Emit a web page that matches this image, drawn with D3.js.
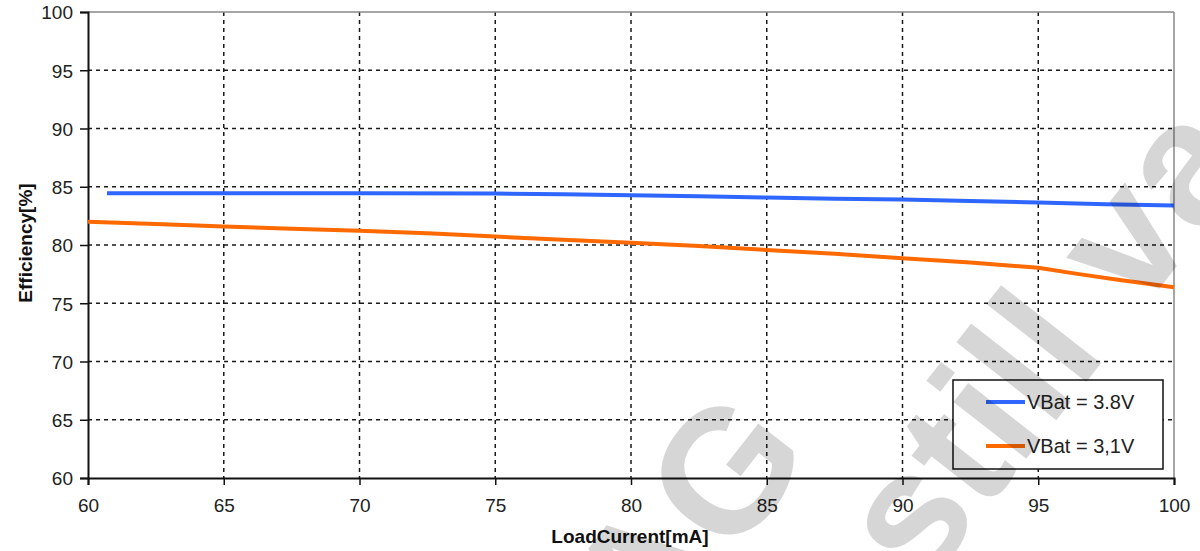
<!DOCTYPE html>
<html>
<head>
<meta charset="utf-8">
<script src="https://cdn.jsdelivr.net/npm/d3@7"></script>
<style>
  html, body { margin: 0; padding: 0; background: #fff; }
  svg { display: block; }
  text { font-family: "Liberation Sans", Arial, sans-serif; }
</style>
</head>
<body>
<svg id="chart" width="1200" height="551"></svg>
<script>
// ---- data ----
const seriesNames = ["VBat = 3.8V", "VBat = 3,1V"];
const seriesColors = ["#2f66ff", "#ff6a00"];
const currentBlue = [60.7, 65, 70, 75, 77.5, 80, 82.5, 85, 87.5, 90, 92.5, 95, 97.5, 100];
const effBlue     = [84.45, 84.45, 84.45, 84.42, 84.35, 84.28, 84.18, 84.08, 83.98, 83.9, 83.78, 83.65, 83.5, 83.4];
const currentOrange = [60, 62.5, 65, 67.5, 70, 72.5, 75, 77.5, 80, 82.5, 85, 87.5, 90, 92.5, 95, 96.5, 98, 100];
const effOrange     = [82.0, 81.8, 81.58, 81.4, 81.22, 81.0, 80.72, 80.45, 80.2, 79.92, 79.57, 79.25, 78.86, 78.5, 78.05, 77.5, 77.0, 76.37];
const xTicks = [60, 65, 70, 75, 80, 85, 90, 95, 100];
const yTicks = [60, 65, 70, 75, 80, 85, 90, 95, 100];
const xTitle = "LoadCurrent[mA]";
const yTitle = "Efficiency[%]";
const watermarkLine1 = "AG";
const watermarkLine2 = "still va";

// ---- layout ----
const svg = d3.select("#chart");
const pLeft = 88, pTop = 12, pRight = 1174, pBottom = 478;
const x = d3.scaleLinear().domain([60, 100]).range([pLeft, pRight]);
const y = d3.scaleLinear().domain([60, 100]).range([pBottom, pTop]);

// gridlines
const grid = svg.append("g");
grid.selectAll("line.v").data(xTicks.filter(d => d > 60 && d < 100)).join("line")
  .attr("class", "v")
  .attr("x1", d => x(d)).attr("x2", d => x(d)).attr("y1", pTop).attr("y2", pBottom)
  .attr("stroke", "#1a1a1a").attr("stroke-width", 1.5).attr("stroke-dasharray", "4,4");
grid.selectAll("line.h").data(yTicks.filter(d => d > 60 && d < 100)).join("line")
  .attr("class", "h")
  .attr("y1", d => y(d)).attr("y2", d => y(d)).attr("x1", pLeft).attr("x2", pRight)
  .attr("stroke", "#1a1a1a").attr("stroke-width", 1.5).attr("stroke-dasharray", "4,4");

// plot border top/right (gray)
svg.append("line").attr("x1", pLeft).attr("x2", pRight).attr("y1", y(100)).attr("y2", y(100))
  .attr("stroke", "#888").attr("stroke-width", 1.5);
svg.append("line").attr("x1", x(100)).attr("x2", x(100)).attr("y1", pTop).attr("y2", pBottom)
  .attr("stroke", "#888").attr("stroke-width", 1.5);

// axes
const xAxis = d3.axisBottom(x).tickValues(xTicks).tickSize(7).tickPadding(14).tickFormat(d3.format("d"));
const yAxis = d3.axisLeft(y).tickValues(yTicks).tickSize(8).tickPadding(7).tickFormat(d3.format("d"));
const gx = svg.append("g").attr("transform", `translate(0,${pBottom})`).call(xAxis);
const gy = svg.append("g").attr("transform", `translate(${pLeft},0)`).call(yAxis);
[gx, gy].forEach(g => {
  g.select(".domain").attr("stroke", "#111").attr("stroke-width", 2);
  g.selectAll(".tick line").attr("stroke", "#111").attr("stroke-width", 1.5);
  g.selectAll(".tick text").attr("fill", "#222").style("font-size", "19px")
    .style("font-family", "'Liberation Sans', Arial, sans-serif");
});
gy.selectAll(".tick text").attr("dy", "0.36em");

// titles
svg.append("text").attr("x", 630).attr("y", 543).attr("text-anchor", "middle")
  .style("font-size", "19px").style("font-weight", "bold").attr("fill", "#111").text(xTitle);
svg.append("text").attr("transform", "translate(32,243) rotate(-90)").attr("text-anchor", "middle")
  .style("font-size", "19px").style("font-weight", "bold").attr("fill", "#111").text(yTitle);

// lines
const line = d3.line().x(d => x(d[0])).y(d => y(d[1]));
const dataBlue = currentBlue.map((c, i) => [c, effBlue[i]]);
const dataOrange = currentOrange.map((c, i) => [c, effOrange[i]]);
svg.append("path").datum(dataOrange).attr("d", line).attr("fill", "none")
  .attr("stroke", seriesColors[1]).attr("stroke-width", 4);
svg.append("path").datum(dataBlue).attr("d", line).attr("fill", "none")
  .attr("stroke", seriesColors[0]).attr("stroke-width", 4);

// legend
const lg = svg.append("g");
lg.append("rect").attr("x", 953).attr("y", 380).attr("width", 210).attr("height", 89)
  .attr("fill", "#fff").attr("stroke", "#111").attr("stroke-width", 1.5);
seriesNames.forEach((name, i) => {
  const ly = 402 + i * 44;
  lg.append("line").attr("x1", 986).attr("x2", 1025).attr("y1", ly).attr("y2", ly)
    .attr("stroke", seriesColors[i]).attr("stroke-width", 4);
  lg.append("text").attr("x", 1027).attr("y", ly + 7).style("font-size", "20px")
    .attr("fill", "#222").text(name);
});

// watermark
const wm = svg.append("g").attr("fill", "#000").attr("fill-opacity", 0.16)
  .style("font-weight", "bold").style("font-size", "175px");
wm.append("text").attr("transform", "translate(815,454) rotate(-52)").attr("text-anchor", "end")
  .text(watermarkLine1);
wm.append("text").attr("transform", "translate(923,591) rotate(-52)")
  .text(watermarkLine2);
</script>
</body>
</html>
